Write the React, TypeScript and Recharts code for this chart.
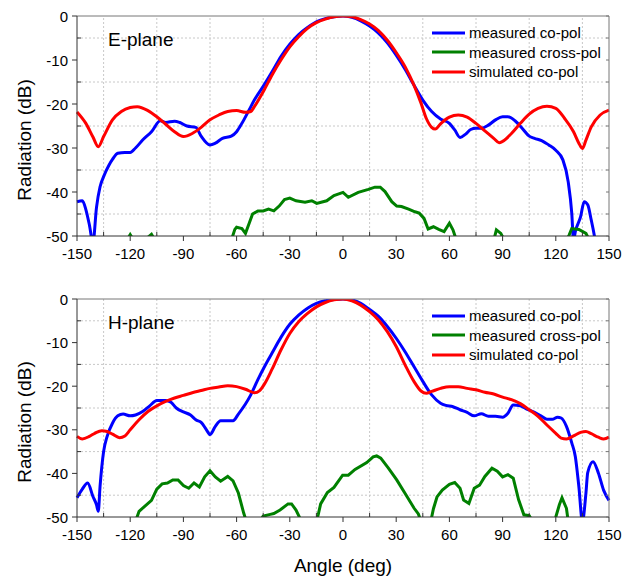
import React from 'react';
import { LineChart, Line, XAxis, YAxis, ReferenceLine, Legend } from 'recharts';

type Pt = [number, number];

const X_TICKS = [-150, -135, -120, -105, -90, -75, -60, -45, -30, -15, 0, 15, 30, 45, 60, 75, 90, 105, 120, 135, 150];
const Y_TICKS = [0, -5, -10, -15, -20, -25, -30, -35, -40, -45, -50];
const GRID_X = [-135, -105, -75, -45, -15, 15, 45, 75, 105, 135];
const GRID_Y = [-5, -15, -25, -35, -45];

// E-plane
const E_CO_MEAS: Pt[] = [
  [-150, -42.2], [-147, -42], [-145, -44], [-143, -47.5], [-141, -51.5], [-139, -43.5], [-137, -38.8], [-135, -36.5],
  [-132, -33.9], [-130, -32.6], [-127, -31.2], [-123, -31], [-120, -31], [-117, -30], [-113, -28.2], [-108, -26.3],
  [-103, -23.8], [-100, -24.2], [-95, -23.9], [-92, -24.2], [-88, -25], [-83, -25.3], [-80, -27.3], [-75, -29.3],
  [-72, -28.9], [-68, -27.8], [-63, -27.3], [-60, -26.3], [-57, -24.4], [-53, -21.4], [-50, -19.1], [-45, -16],
  [-40, -12.7], [-35, -9.2], [-30, -6.4], [-25, -4.2], [-20, -2.6], [-15, -1.3], [-10, -0.6], [-5, -0.15], [0, 0],
  [5, -0.3], [10, -1.1], [15, -2.3], [20, -3.9], [25, -6.1], [30, -8.9], [35, -12.1], [40, -15.7], [45, -19.1],
  [50, -21.7], [55, -23.4], [60, -24.4], [63, -25.9], [66, -27.6], [69, -26.9], [72, -25.8], [75, -25.5], [78, -25.5],
  [82, -24.8], [86, -23.6], [90, -22.9], [93, -22.9], [97, -23.8], [101, -25.5], [105, -27.3], [108, -27.8],
  [112, -28.3], [116, -29.3], [120, -30.5], [124, -32.7], [127, -37.7], [129, -44.8], [130, -51], [131, -49],
  [134, -45.6], [136, -42.2], [138, -42.9], [140, -46.4], [142, -50.5], [144, -56], [150, -60],
];

const E_CROSS_MEAS: Pt[] = [
  [-150, -56], [-128, -55], [-122, -51], [-120, -49.7], [-118, -51], [-112, -51], [-108, -49.6], [-106, -51],
  [-95, -55], [-70, -55], [-63, -51], [-61, -48.5], [-60, -48], [-57, -48.3], [-55, -49.4], [-53, -47.2], [-51, -45],
  [-48, -44.3], [-45, -44.3], [-42, -43.9], [-39, -44.3], [-36, -43.2], [-33, -41.7], [-30, -41.4], [-26.5, -42],
  [-21.4, -42.3], [-17.6, -42], [-14.8, -42.6], [-9.2, -42], [-5.1, -40.8], [0, -40.1], [3, -41.2], [8.6, -40.1],
  [14.3, -39.4], [18, -38.9], [21, -38.9], [23.7, -39.9], [27.5, -42.2], [30.3, -43.2], [33, -43.3], [37, -43.9],
  [40.6, -44.5], [43, -44.8], [45.7, -46], [48, -48.4], [51, -47.9], [54, -48.5], [57, -49], [60, -47.1], [62, -48.6],
  [64, -51], [70, -55], [82, -55], [85, -51], [86.5, -48.6], [89, -49.4], [91, -51], [100, -55], [120, -55],
  [126, -51], [127.5, -49.8], [129, -48.3], [133, -48.5], [137, -49.4], [139, -51], [145, -56], [150, -56],
];

const E_CO_SIM: Pt[] = [
  [-150, -21.8], [-145, -24.4], [-141, -27.5], [-138, -29.7], [-135, -27.4], [-130, -23.6], [-125, -21.7], [-120, -20.8],
  [-116, -20.6], [-110, -21.5], [-105, -22.9], [-100, -24.6], [-95, -26.3], [-90, -27.4], [-85, -26.7], [-80, -25.3],
  [-75, -23.6], [-70, -22.5], [-65, -21.7], [-60, -21.5], [-55, -21.9], [-52, -21.7], [-50, -20.6], [-45, -17.2],
  [-40, -13.4], [-35, -10], [-30, -7], [-25, -4.7], [-20, -2.8], [-15, -1.5], [-10, -0.7], [-5, -0.15], [0, 0],
  [5, -0.15], [10, -0.8], [15, -1.8], [20, -3.3], [25, -5.5], [30, -8.3], [35, -11.5], [40, -15.7], [44, -19.8],
  [47, -23.3], [50, -25.3], [52, -25.7], [55, -24.5], [60, -23], [65, -22.5], [70, -23], [75, -24.4], [80, -26.1],
  [85, -27.8], [88, -28.8], [90, -28.5], [95, -26.7], [100, -24.4], [105, -22.3], [110, -21], [115, -20.5],
  [120, -21], [125, -23.3], [130, -26.3], [133, -28.9], [135, -30.1], [137, -28.2], [140, -25.2], [145, -22.5],
  [150, -21.4],
];

// H-plane
const H_CO_MEAS: Pt[] = [
  [-150, -45.6], [-147, -43.6], [-144, -42.2], [-141, -45.3], [-139, -47.2], [-138, -48.7], [-137, -43], [-135, -35],
  [-133, -31.5], [-130, -28.5], [-127, -26.8], [-124, -26.4], [-120, -26.8], [-117, -26.6], [-113, -25.8],
  [-109, -24.5], [-105, -23.3], [-100, -23.3], [-97, -23.7], [-94, -25], [-90, -25.9], [-86, -26.6], [-83, -27.7],
  [-80, -28.3], [-77, -30], [-75, -31.1], [-72, -29.2], [-69, -27.9], [-66, -27.9], [-62, -27.9], [-59, -26.4],
  [-55, -24.1], [-52, -22], [-48, -18.5], [-44, -15.3], [-40, -12.4], [-35, -8.8], [-30, -5.8], [-25, -3.7],
  [-20, -2.1], [-15, -1], [-10, -0.4], [-5, -0.1], [0, 0], [5, -0.2], [10, -1], [15, -2.4], [20, -4], [25, -6.3],
  [30, -9], [35, -12.1], [40, -15.5], [45, -18.9], [50, -22], [55, -23.9], [58, -24.4], [62, -24.7], [66, -25.4],
  [70, -26], [74, -26.8], [78, -26.3], [82, -26.9], [86, -26.9], [90, -27.1], [93, -26.2], [96, -24.3], [100, -24.5],
  [104, -25.3], [108, -26], [112, -26.9], [115, -27.6], [118, -27.6], [121, -27.1], [123, -27.3], [126, -29.2],
  [129, -33], [131, -36.1], [133, -43], [135, -51], [137, -44.5], [138, -39.8], [141, -37.3], [144, -39.9],
  [147, -43.9], [150, -46.2],
];

const H_CROSS_MEAS: Pt[] = [
  [-150, -56], [-125, -55], [-117, -51], [-115, -48.7], [-112, -47.6], [-108, -46.2], [-105, -43.6], [-102, -42.4],
  [-99, -42.2], [-96, -41.5], [-93, -41.5], [-90, -42.8], [-87, -43.4], [-84, -42.2], [-81, -43.1], [-78, -40.8],
  [-75, -39.4], [-72, -40.8], [-69, -41.8], [-65, -40.7], [-62, -41.7], [-59, -44.5], [-56, -49.1], [-54.5, -51],
  [-50, -54], [-47, -51], [-45, -49.8], [-41, -49.4], [-39, -49.2], [-35.5, -48.4], [-31, -47], [-29, -47],
  [-26.5, -48.4], [-24.6, -50], [-23, -52], [-18, -54], [-15, -51], [-14, -49.5], [-12.6, -47], [-8.8, -44.4],
  [-5.1, -43.2], [-0.2, -40.4], [3, -40.4], [6.8, -39.1], [13.4, -37.5], [17, -36.2], [19, -36], [21.3, -36.5],
  [25.6, -38.8], [30.3, -41.5], [35.9, -45.2], [40.1, -48], [42.5, -49.3], [44, -51], [47, -54], [49.5, -51],
  [51, -48.1], [53, -45.4], [56, -43.8], [60, -42.5], [63, -42.1], [66, -43.4], [68, -46.1], [71, -46.9], [74, -43.4],
  [77, -42.7], [80, -40.7], [84, -38.8], [87, -39.5], [90, -40.8], [93, -40.3], [96, -41.1], [99, -46], [102, -49.5],
  [105, -49.7], [107, -51], [112, -55], [118, -52], [120, -50], [122, -47.2], [123.5, -45.6], [126, -48], [127, -51],
  [130, -55], [150, -56],
];

const H_CO_SIM: Pt[] = [
  [-150, -31.5], [-147, -32.1], [-143, -31.5], [-140, -30.8], [-136, -30.2], [-133, -30.4], [-130, -31], [-126, -31.8],
  [-123, -31.4], [-120, -30], [-115, -27.7], [-110, -25.8], [-105, -24.5], [-100, -23.5], [-95, -22.7], [-90, -22.1],
  [-85, -21.5], [-80, -21], [-75, -20.5], [-70, -20.2], [-65, -19.9], [-60, -20.1], [-55, -20.7], [-50, -21.5],
  [-47, -21], [-44, -19.3], [-40, -16.1], [-35, -11.7], [-30, -7.9], [-25, -5.2], [-20, -3.3], [-15, -1.8],
  [-10, -0.8], [-5, -0.2], [0, 0], [5, -0.4], [10, -1.4], [15, -2.9], [20, -4.8], [25, -7.5], [30, -10.9], [35, -15.1],
  [40, -18.9], [44, -21.1], [47, -21.6], [50, -21.2], [55, -20.5], [60, -20.1], [65, -20.1], [70, -20.5], [75, -20.8],
  [80, -21.4], [85, -21.8], [90, -22.5], [95, -23.1], [100, -24], [105, -25.4], [110, -26.9], [115, -28.9],
  [120, -30.8], [123, -31.9], [126, -32.1], [130, -31.4], [134, -30.6], [137, -30.4], [140, -30.9], [144, -31.7],
  [147, -32.1], [150, -31.7],
];

const SERIES_NAMES = ['measured co-pol', 'measured cross-pol', 'simulated co-pol'];
const COLORS = ['#0000ff', '#008000', '#ff0000'];

const FONT = '"Liberation Sans", Arial, sans-serif';
const AXIS_DARK = '#333';
const AXIS_LIGHT = '#777';

const toRows = (pts: Pt[]) => pts.map(([a, v]) => ({ a, v }));

// major ticks point out, minor ticks point in (Origin style)
const XTick = (props: any) => {
  const { x, y, payload } = props;
  const v = payload.value;
  const major = v % 30 === 0;
  return (
    <g>
      <line x1={x} x2={x} y1={y} y2={major ? y + 5 : y - 4} stroke={AXIS_DARK} />
      {major && (
        <text x={x} y={y + 23} textAnchor="middle" fontSize={15} fill="#000" fontFamily={FONT}>
          {v}
        </text>
      )}
    </g>
  );
};

const YTick = (props: any) => {
  const { x, y, payload } = props;
  const v = payload.value;
  const major = v % 10 === 0;
  return (
    <g>
      <line x1={x} x2={major ? x - 5 : x + 4} y1={y} y2={y} stroke={AXIS_DARK} />
      {major && (
        <text x={x - 9} y={y + 5.5} textAnchor="end" fontSize={15} fill="#000" fontFamily={FONT}>
          {v}
        </text>
      )}
    </g>
  );
};

const renderLegend = (props: any) => {
  const items = props.payload || [];
  return (
    <div style={{ fontFamily: FONT, fontSize: 15, color: '#000' }}>
      {items.map((it: any) => (
        <div key={it.value} style={{ height: 19.5, display: 'flex', alignItems: 'center' }}>
          <svg width={37} height={6} style={{ display: 'block' }}>
            <line x1={0} y1={3} x2={33} y2={3} stroke={it.color} strokeWidth={3} />
          </svg>
          <span>{it.value}</span>
        </div>
      ))}
    </div>
  );
};

const yTitle = (props: any) => {
  const vb = props.viewBox;
  const cx = 24;
  const cy = vb.y + vb.height / 2 + 14;
  return (
    <text x={cx} y={cy} transform={`rotate(-90 ${cx} ${cy})`} textAnchor="middle" dominantBaseline="central"
      fontSize={19} fill="#000" fontFamily={FONT}>
      Radiation (dB)
    </text>
  );
};

const xTitle = (props: any) => {
  const vb = props.viewBox;
  return (
    <text x={vb.x + vb.width / 2} y={vb.y + 48} textAnchor="middle" dominantBaseline="central"
      fontSize={19} fill="#000" fontFamily={FONT}>
      Angle (deg)
    </text>
  );
};

interface PanelProps {
  title: string;
  co: Pt[];
  cross: Pt[];
  sim: Pt[];
  height: number;
  bottom: number;
  showXTitle?: boolean;
}

function Panel({ title, co, cross, sim, height, bottom, showXTitle }: PanelProps) {
  const series = [co, cross, sim];
  return (
    <div style={{ position: 'relative', width: 629, height }}>
      <LineChart width={629} height={height} margin={{ top: 16, right: 20, left: 0, bottom }}>
        {GRID_X.map((g) => (
          <ReferenceLine key={'gx' + g} x={g} stroke="#c8c8c8" strokeDasharray="2 2" />
        ))}
        {GRID_Y.map((g) => (
          <ReferenceLine key={'gy' + g} y={g} stroke="#c8c8c8" strokeDasharray="2 2" />
        ))}
        <XAxis
          dataKey="a"
          type="number"
          domain={[-150, 150]}
          ticks={X_TICKS}
          interval={0}
          height={30}
          tickSize={0}
          tickMargin={0}
          tick={<XTick />}
          tickLine={false}
          axisLine={{ stroke: AXIS_DARK }}
          label={showXTitle ? { content: xTitle } : undefined}
        />
        <XAxis
          xAxisId="top"
          orientation="top"
          mirror
          type="number"
          domain={[-150, 150]}
          ticks={X_TICKS}
          interval={0}
          tickSize={3}
          tickFormatter={() => ''}
          axisLine={{ stroke: AXIS_LIGHT }}
          tickLine={{ stroke: AXIS_LIGHT }}
        />
        <YAxis
          type="number"
          domain={[-50, 0]}
          allowDataOverflow
          ticks={Y_TICKS}
          interval={0}
          width={77}
          tickSize={0}
          tickMargin={0}
          tick={<YTick />}
          tickLine={false}
          axisLine={{ stroke: AXIS_DARK }}
          label={{ content: yTitle }}
        />
        <YAxis
          yAxisId="right"
          orientation="right"
          mirror
          type="number"
          domain={[-50, 0]}
          allowDataOverflow
          ticks={Y_TICKS}
          interval={0}
          tickSize={3}
          tickFormatter={() => ''}
          axisLine={{ stroke: AXIS_LIGHT }}
          tickLine={{ stroke: AXIS_LIGHT }}
        />
        {series.map((s, i) => (
          <Line
            key={SERIES_NAMES[i]}
            data={toRows(s)}
            dataKey="v"
            name={SERIES_NAMES[i]}
            type={i === 1 ? 'linear' : 'monotone'}
            stroke={COLORS[i]}
            strokeWidth={3}
            dot={false}
            activeDot={false}
            isAnimationActive={false}
          />
        ))}
        <Legend
          layout="horizontal"
          verticalAlign="middle"
          align="center"
          content={renderLegend}
          wrapperStyle={{ top: 23, left: 432, width: 180, height: 60 }}
        />
      </LineChart>
      <div style={{ position: 'absolute', left: 108, top: 28, fontFamily: FONT, fontSize: 19, color: '#000', lineHeight: '24px' }}>
        {title}
      </div>
    </div>
  );
}

export default function App() {
  return (
    <div style={{ position: 'absolute', left: 0, top: 0, width: 629, height: 579, background: '#fff', fontFamily: FONT }}>
      <div style={{ position: 'absolute', left: 0, top: 0 }}>
        <Panel title="E-plane" co={E_CO_MEAS} cross={E_CROSS_MEAS} sim={E_CO_SIM} height={270} bottom={4} />
      </div>
      <div style={{ position: 'absolute', left: 0, top: 283 }}>
        <Panel title="H-plane" co={H_CO_MEAS} cross={H_CROSS_MEAS} sim={H_CO_SIM} height={296} bottom={32} showXTitle />
      </div>
    </div>
  );
}
